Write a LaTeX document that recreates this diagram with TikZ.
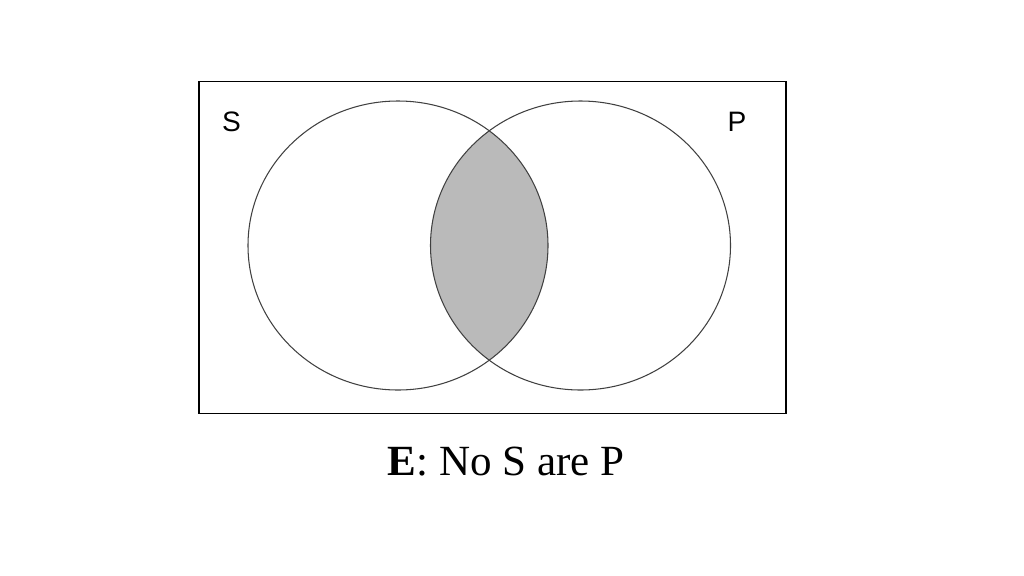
\documentclass[tikz,border=0pt]{standalone}
\usepackage{fontspec}
\setmainfont{Liberation Serif}
\newfontfamily\labelfont{Liberation Sans}
\begin{document}
\begin{tikzpicture}[x=0.02cm,y=-0.02cm]
\useasboundingbox (0,0) rectangle (1024,575);

% shaded overlap
\begin{scope}
\clip (398,245.5) ellipse (150 and 144.5);
\fill[black!27] (580.5,245.5) ellipse (150 and 144.5);
\end{scope}

\foreach \cx in {398,580.5} {
        \draw[black!75, line width=0.6pt] (\cx,245.5) ellipse (150 and 144.5);
 }

\draw[line width=1.1pt] (199,81.5) rectangle (786,413.5);

\node (S) at (231.5,122) {\labelfont\fontsize{16}{18}\selectfont S};
\node (P) at (737,122) {\labelfont\fontsize{16}{18}\selectfont P};
\node (caption) at (506,462) {\fontsize{24.5}{28}\selectfont\textbf{E}: No S are P};
\end{tikzpicture}
\end{document}
